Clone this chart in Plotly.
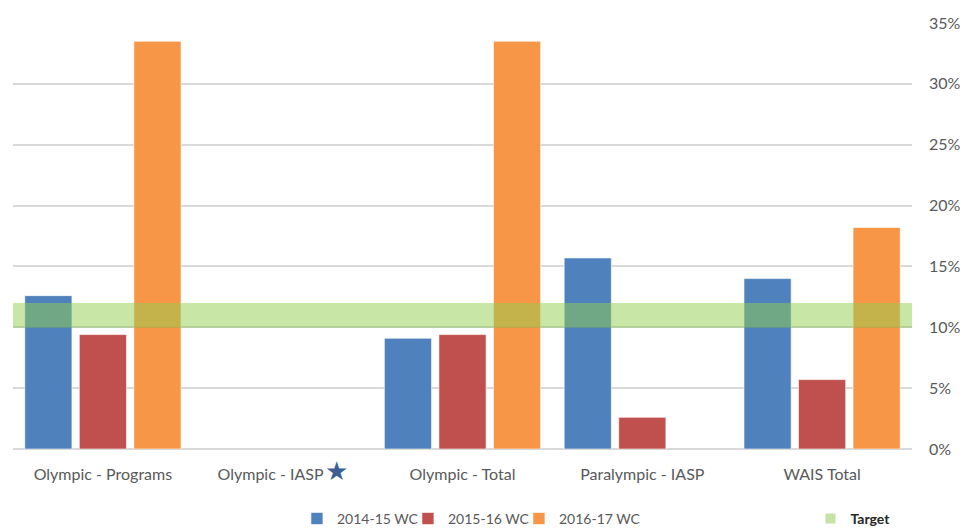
import plotly.graph_objects as go

# Category labels along the x axis
categories = [
    "Olympic - Programs",
    "Olympic - IASP",
    "Olympic - Total",
    "Paralympic - IASP",
    "WAIS Total",
]
category_labels = [
    "Olympic - Programs",
    "Olympic - IASP<span style='font-size:5px'> </span>"
    "<span style='color:#3e5f93;font-size:26px'>★</span>",
    "Olympic - Total",
    "Paralympic - IASP",
    "WAIS Total",
]

# Values in percent; None where no value was recorded
wc_2014_15 = [12.6, None, 9.1, 15.7, 14.0]
wc_2015_16 = [9.4, None, 9.4, 2.6, 5.7]
wc_2016_17 = [33.5, None, 33.5, None, 18.2]

# Target band (percent)
target_low = 10
target_high = 12

tick_vals = [0, 5, 10, 15, 20, 25, 30, 35]
tick_text = [f"{v}%" for v in tick_vals]

series = [
    ("2014-15 WC", wc_2014_15, "#4f81bd"),
    ("2015-16 WC", wc_2015_16, "#c0504d"),
    ("2016-17 WC", wc_2016_17, "#f79646"),
]

fig = go.Figure()
for name, vals, color in series:
    fig.add_trace(go.Bar(
        x=categories, y=vals, name=name,
        marker=dict(color=color, line=dict(color="rgba(255,255,255,0.6)", width=1)),
        legend="legend",
    ))

# Blank trailing legend slot so the last series label keeps its full width
fig.add_trace(go.Scatter(
    x=[categories[0]], y=[None], name=" ", mode="markers",
    marker=dict(color="rgba(0,0,0,0)", size=1),
    legend="legend", showlegend=True, hoverinfo="skip",
))

# Legend entry for the target band (no visible points)
fig.add_trace(go.Scatter(
    x=[categories[0]], y=[None], name="Target", mode="markers",
    marker=dict(color="#c5e3a4", symbol="square", size=10),
    legend="legend2", showlegend=True,
))

# Target band drawn over the bars
fig.add_shape(
    type="rect", xref="paper", yref="y",
    x0=0, x1=1, y0=target_low, y1=target_high,
    fillcolor="rgba(146,208,80,0.5)",
    line=dict(width=0), layer="above",
)
fig.add_shape(
    type="line", xref="paper", yref="y",
    x0=0, x1=1, y0=target_low, y1=target_low,
    line=dict(color="rgba(120,180,80,0.35)", width=1), layer="above",
)

fig.update_layout(
    width=966, height=530,
    margin=dict(l=13, r=54, t=23, b=81, autoexpand=False),
    paper_bgcolor="white", plot_bgcolor="white",
    showlegend=True,
    barmode="group", bargap=0.09, bargroupgap=0.135,
    font=dict(family="Lato", color="#595959"),
    xaxis=dict(
        tickmode="array", tickvals=categories, ticktext=category_labels,
        tickfont=dict(size=16, color="#595959"),
        showgrid=False, showline=False, ticks="", ticklabelstandoff=14,
    ),
    yaxis=dict(
        side="right", range=[0, 35],
        tickmode="array", tickvals=tick_vals, ticktext=tick_text,
        tickfont=dict(size=16, color="#595959"),
        showgrid=True, gridcolor="#d9d9d9", gridwidth=1.5,
        zeroline=True, zerolinecolor="#d9d9d9", zerolinewidth=2,
        showline=False, ticks="", ticklabelstandoff=16,
    ),
    legend=dict(
        orientation="h", xref="container", yref="container",
        x=0.3074, xanchor="left", y=0.021, yanchor="middle",
        font=dict(size=14, color="#595959"), itemwidth=30,
        entrywidth=66, bgcolor="rgba(0,0,0,0)", traceorder="normal",
    ),
    legend2=dict(
        orientation="h", xref="container", yref="container",
        x=0.839, xanchor="left", y=0.021, yanchor="middle",
        font=dict(size=14, color="#262626", weight="bold"), itemwidth=30,
        bgcolor="rgba(0,0,0,0)",
    ),
)

fig.write_html("out.html")
